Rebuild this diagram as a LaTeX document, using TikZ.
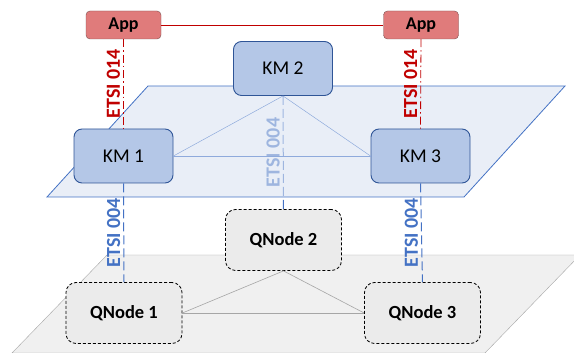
\documentclass[tikz,border=0pt]{standalone}
\usepackage{fontspec}
\setmainfont{Carlito}

\definecolor{appfill}{HTML}{E07B7B}
\definecolor{appedge}{HTML}{7A5050}
\definecolor{kmfill}{HTML}{B4C7E7}
\definecolor{kmedge}{HTML}{2F5597}
\definecolor{planefill}{HTML}{DAE3F2}
\definecolor{planeedge}{HTML}{4472C4}
\definecolor{kmlink}{HTML}{8FAADC}
\definecolor{qfill}{HTML}{EBEBEB}
\definecolor{floorfill}{HTML}{F0F0F0}
\definecolor{flooredge}{HTML}{A6A6A6}
\definecolor{etsired}{HTML}{C00000}
\definecolor{etsiblue}{HTML}{4472C4}

\pgfdeclarelayer{floor}
\pgfdeclarelayer{plane}
\pgfsetlayers{floor,plane,main}

\begin{document}
\begin{tikzpicture}[x=1pt, y=1pt,
  appbox/.style={draw=appedge, fill=appfill, rounded corners=4pt, inner sep=0pt,
    minimum width=75pt, minimum height=28pt, font=\fontsize{18}{20}\selectfont\bfseries},
  kmbox/.style={draw=kmedge, line width=0.9pt, fill=kmfill, rounded corners=8pt, inner sep=0pt,
    minimum width=99pt, minimum height=54pt, font=\fontsize{19.5}{22}\selectfont},
  qbox/.style={draw=black, line width=0.8pt, dash pattern=on 3pt off 2pt, fill=qfill,
    rounded corners=10pt, inner sep=0pt, minimum width=116pt, minimum height=61pt,
    font=\fontsize{18.5}{21}\selectfont\bfseries},
  etsi/.style={midway, anchor=south, rotate=90, inner sep=3pt,
    font=\fontsize{20}{22}\selectfont\bfseries},
  api014/.style={etsired, line width=0.8pt, dash pattern=on 8pt off 3pt on 1.5pt off 3pt},
  api004/.style={etsiblue, line width=1pt, dash pattern=on 9pt off 4pt},
  kmlinkline/.style={kmlink, line width=0.5pt},
  qlinkline/.style={flooredge, line width=0.6pt}]

\useasboundingbox (0,0) rectangle (574,353);

% quantum layer (floor)
\begin{pgfonlayer}{floor}
\begin{scope}
  \clip (0,0) rectangle (574,353);
  \draw[flooredge, fill=floorfill] (107,98) -- (580,98) -- (485,0) -- (12,0) -- cycle;
\end{scope}
\end{pgfonlayer}

% key management plane
\begin{pgfonlayer}{plane}
  \draw[planeedge, fill=planefill, fill opacity=0.6, line width=0.8pt]
    (47,156) -- (464,156) -- (565,267) -- (148,267) -- cycle;
\end{pgfonlayer}

% quantum nodes
\node[qbox] (qn1) at (124,40) {QNode 1};
\node[qbox] (qn2) at (283.5,113) {QNode 2};
\node[qbox] (qn3) at (422.5,40) {QNode 3};

\draw[qlinkline] (qn2.south) -- (qn1.east);
\draw[qlinkline] (qn2.south) -- (qn3.west);
\draw[qlinkline] (qn1.east) -- (qn3.west);

% key managers
\node[kmbox] (km1) at (123.5,197) {KM 1};
\node[kmbox] (km2) at (283,284.5) {KM 2};
\node[kmbox] (km3) at (420.5,197) {KM 3};

\draw[kmlinkline] (km2.south) -- (km1.east);
\draw[kmlinkline] (km2.south) -- (km3.west);
\draw[kmlinkline] (km1.east) -- (km3.west);

% applications
\node[appbox] (app1) at (123.5,328) {App};
\node[appbox] (app2) at (421,328) {App};

\draw[etsired, line width=0.6pt] (app1.east) -- (app2.west);

% ETSI 014 interfaces
\draw[api014] (app1.south) -- (km1.north) node[etsi, text=etsired] {ETSI 014};
\draw[api014] (app2.south) -- (km3.north) node[etsi, text=etsired] {ETSI 014};

% ETSI 004 interfaces
\draw[api004] (km1.south) -- (qn1.north) node[etsi, text=etsiblue] {ETSI 004};
\draw[api004] (km3.south) -- (qn3.north) node[etsi, text=etsiblue] {ETSI 004};
\begin{pgfonlayer}{floor}
  \draw[api004] (km2.south) -- (qn2.north) node[etsi, text=etsiblue] {ETSI 004};
\end{pgfonlayer}

\end{tikzpicture}
\end{document}
